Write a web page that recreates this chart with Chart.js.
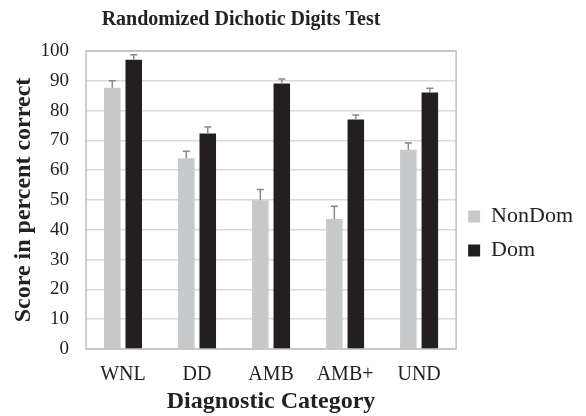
<!DOCTYPE html>
<html>
<head>
<meta charset="utf-8">
<script src="https://cdn.jsdelivr.net/npm/chart.js@4"></script>
<style>
  html, body { margin: 0; padding: 0; background: #fff; }
  #wrap { width: 586px; height: 416px; }
</style>
</head>
<body>
<div id="wrap"><canvas id="myChart"></canvas></div>
<script>
// categories and values
const categories = ['WNL', 'DD', 'AMB', 'AMB+', 'UND'];
const nonDom = [87.7, 64.0, 49.9, 43.6, 66.9];
const nonDomErr = [2.3, 2.4, 3.6, 4.3, 2.2];
const dom = [97.1, 72.3, 89.1, 77.0, 86.1];
const domErr = [1.6, 2.2, 1.5, 1.5, 1.4];
const yTicks = [0, 10, 20, 30, 40, 50, 60, 70, 80, 90, 100];

const serif = '"Liberation Serif", "Times New Roman", serif';
const errors = [nonDomErr, domErr];

// error bars drawn upward from each bar top
const errorBars = {
  id: 'errorBars',
  afterDatasetsDraw(chart) {
    const c = chart.ctx;
    const y = chart.scales.y;
    c.save();
    c.strokeStyle = '#8a8a8a';
    c.lineWidth = 1.5;
    chart.data.datasets.forEach((ds, i) => {
      const meta = chart.getDatasetMeta(i);
      meta.data.forEach((bar, j) => {
        const top = y.getPixelForValue(ds.data[j] + errors[i][j]);
        c.beginPath();
        c.moveTo(bar.x, bar.y);
        c.lineTo(bar.x, top);
        c.moveTo(bar.x - 3.5, top);
        c.lineTo(bar.x + 3.5, top);
        c.stroke();
      });
    });
    c.restore();
  }
};

// box around the plot and the title
const frame = {
  id: 'frame',
  beforeDatasetsDraw(chart) {
    const a = chart.chartArea;
    const c = chart.ctx;
    c.save();
    c.strokeStyle = '#bfbfbf';
    c.lineWidth = 1.5;
    c.strokeRect(a.left, a.top, a.right - a.left, a.bottom - a.top);
    c.restore();
  },
  afterDraw(chart) {
    const c = chart.ctx;
    c.save();
    c.font = 'bold 20px ' + serif;
    c.fillStyle = '#222';
    c.textAlign = 'center';
    c.textBaseline = 'middle';
    c.fillText('Randomized Dichotic Digits Test', 241, 20);
    c.restore();
  }
};

new Chart(document.getElementById('myChart'), {
  type: 'bar',
  data: {
    labels: categories,
    datasets: [
      {
        label: 'NonDom',
        data: nonDom,
        backgroundColor: '#c8c9cb',
        categoryPercentage: 0.58,
        barPercentage: 0.77
      },
      {
        label: 'Dom',
        data: dom,
        backgroundColor: '#231f20',
        categoryPercentage: 0.58,
        barPercentage: 0.77
      }
    ]
  },
  options: {
    responsive: true,
    maintainAspectRatio: false,
    animation: false,
    layout: { padding: { top: 51, right: 3, bottom: 0, left: 0 } },
    plugins: {
      title: { display: false },
      tooltip: { enabled: false },
      legend: {
        position: 'right',
        labels: {
          font: { family: serif, size: 22 },
          color: '#222',
          boxWidth: 12,
          boxHeight: 12,
          padding: 12
        }
      }
    },
    scales: {
      x: {
        grid: { display: false },
        border: { display: false },
        ticks: { font: { family: serif, size: 20 }, color: '#222', padding: 6 },
        title: {
          display: true,
          text: 'Diagnostic Category',
          font: { family: serif, size: 24, weight: 'bold' },
          color: '#222',
          padding: { top: 0, bottom: 0 }
        },
        afterFit(scale) { scale.height = 67; }
      },
      y: {
        min: 0,
        max: 100,
        afterBuildTicks(scale) { scale.ticks = yTicks.map(v => ({ value: v })); },
        grid: { color: '#d9d9d9', lineWidth: 1.5, drawTicks: false },
        border: { display: false },
        ticks: { font: { family: serif, size: 19 }, color: '#222', padding: 17 },
        title: {
          display: true,
          text: 'Score in percent correct',
          font: { family: serif, size: 24, weight: 'bold' },
          color: '#222',
          padding: { top: 9, bottom: 0 }
        },
        afterFit(scale) { scale.width = 86; }
      }
    }
  },
  plugins: [errorBars, frame]
});
</script>
</body>
</html>
